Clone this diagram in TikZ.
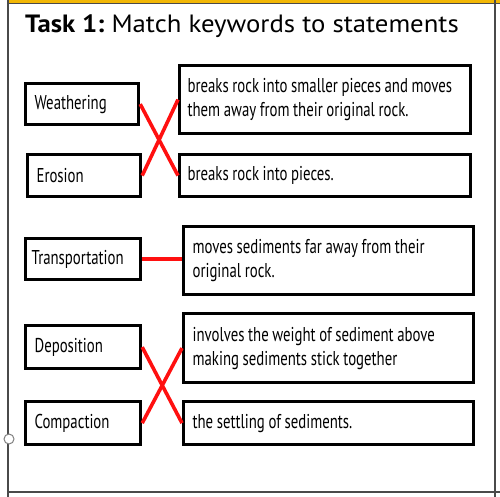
\documentclass[tikz,border=0pt]{standalone}
\usepackage{fontspec}
\setmainfont{PT Sans}
\newfontfamily\condfont[FakeStretch=0.74]{PT Sans}
\newfontfamily\titlefont[FakeStretch=1.07]{PT Sans}
\definecolor{framegray}{HTML}{4A4A4A}
\definecolor{gold}{HTML}{F2B705}
\definecolor{linkred}{HTML}{FF1010}
\tikzset{
  kbox/.style={draw=black, line width=3.2pt, anchor=north west, inner xsep=9pt, inner ysep=0pt,
    align=left, font=\condfont\fontsize{20}{24}\selectfont,
    execute at begin node={\spaceskip=3.6pt plus 1pt minus 1pt\relax}},
  link/.style={draw=linkred, line width=3.6pt},
  frame/.style={draw=framegray, line width=1.8pt}
}
\begin{document}
\begin{tikzpicture}[x=1pt,y=-1pt]
\useasboundingbox (0,0) rectangle (500,497);
% frame
\fill[gold] (7,0) rectangle (500,3.2);
\draw[framegray, line width=0.8pt] (7,3.8) -- (500,3.8);
\draw[frame] (8,0) -- (8,497);
\draw[frame] (495,0) -- (495,497);
\draw[frame] (8,492) -- (500,492);
\draw[gray, line width=1pt, fill=white] (9,439) circle (5);
% title
\node[anchor=base west, inner sep=0pt, font=\titlefont\fontsize{25}{30}\selectfont] (title) at (25,33)
  {\textbf{Task 1:}\ Match keywords to statements};
% keyword boxes
\node[kbox, minimum width=113pt, minimum height=41pt, text width=95pt] (wea) at (24,82) {Weathering};
\node[kbox, minimum width=113pt, minimum height=42pt, text width=95pt] (ero) at (26,153) {Erosion};
\node[kbox, minimum width=115pt, minimum height=41pt, inner xsep=6pt, text width=103pt] (tra) at (24,237) {Transportation};
\node[kbox, minimum width=115pt, minimum height=43pt, text width=97pt] (dep) at (24,324) {Deposition};
\node[kbox, minimum width=115pt, minimum height=43pt, text width=97pt] (com) at (24,400) {Compaction};
% statement boxes
\node[kbox, minimum width=291pt, minimum height=68pt, inner xsep=8pt, text width=275pt] (r1) at (178,64)
  {breaks rock into smaller pieces and moves\\them away from their original rock.};
\node[kbox, minimum width=291pt, minimum height=42pt, inner xsep=8pt, text width=275pt] (r2) at (178,153)
  {breaks rock into pieces.};
\node[kbox, minimum width=290pt, minimum height=68pt, text width=272pt] (r3) at (182,225)
  {moves sediments far away from their\\original rock.};
\node[kbox, minimum width=290pt, minimum height=69pt, text width=272pt] (r4) at (182,312)
  {involves the weight of sediment above\\making sediments stick together};
\node[kbox, minimum width=290pt, minimum height=43pt, text width=272pt] (r5) at (182,400)
  {the settling of sediments.};
% links
\draw[link] (wea.east) -- (r2.west);
\draw[link] (ero.east) -- (r1.west);
\draw[link, line width=4.5pt] (tra.east) -- (tra.east -| r3.west);
\draw[link] (dep.east) -- (r5.west);
\draw[link] (com.east) -- (r4.west);
\end{tikzpicture}
\end{document}
